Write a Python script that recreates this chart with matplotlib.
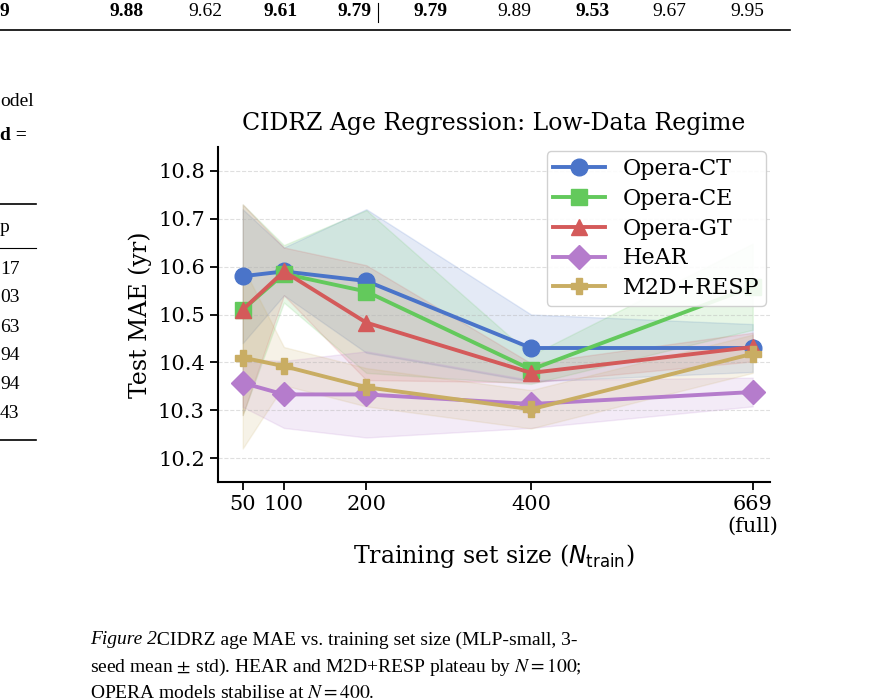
import numpy as np
import matplotlib.pyplot as plt

# training set sizes
n_train = [50, 100, 200, 400, 669]
tick_labels = ["50", "100", "200", "400", "669\n(full)"]

names = ["Opera-CT", "Opera-CE", "Opera-GT", "HeAR", "M2D+RESP"]
colors = ["#4a74c9", "#63c95c", "#d45a5a", "#b57ccc", "#c9ad63"]
markers = ["o", "s", "^", "D", "P"]

mae_ct = [10.58, 10.59, 10.57, 10.43, 10.43]
mae_ce = [10.51, 10.585, 10.548, 10.385, 10.558]
mae_gt = [10.51, 10.59, 10.483, 10.378, 10.432]
mae_hear = [10.357, 10.333, 10.333, 10.313, 10.338]
mae_m2d = [10.41, 10.392, 10.348, 10.302, 10.418]

std_ct = [0.14, 0.05, 0.15, 0.07, 0.05]
std_ce = [0.22, 0.06, 0.17, 0.03, 0.09]
std_gt = [0.22, 0.05, 0.12, 0.02, 0.03]
std_hear = [0.05, 0.07, 0.09, 0.05, 0.03]
std_m2d = [0.19, 0.04, 0.04, 0.04, 0.04]

means = [mae_ct, mae_ce, mae_gt, mae_hear, mae_m2d]
stds = [std_ct, std_ce, std_gt, std_hear, std_m2d]

plt.rcParams["font.family"] = "DejaVu Serif"
plt.rcParams["mathtext.fontset"] = "dejavusans"
fig = plt.figure(figsize=(8.83, 6.99), dpi=100)
ax = fig.add_axes([218/883, 1-482/699, 552/883, 335/699])

x = np.array(n_train)
for name, c, m, mu, sd in zip(names, colors, markers, means, stds):
    mu = np.array(mu); sd = np.array(sd)
    ax.fill_between(x, mu - sd, mu + sd, color=c, alpha=0.15)
    ax.plot(x, mu, color=c, marker=m, markersize=12, linewidth=2.8, label=name)

ax.set_ylim(10.15, 10.85)
ax.set_xlim(20, 690)
ax.set_yticks([10.2, 10.3, 10.4, 10.5, 10.6, 10.7, 10.8])
ax.set_xticks(n_train)
ax.set_xticklabels(tick_labels, fontsize=15)
ax.tick_params(axis="y", labelsize=15)
ax.tick_params(width=1.3, length=6)
ax.grid(axis="y", linestyle="--", alpha=0.4)
ax.spines["top"].set_visible(False)
ax.spines["right"].set_visible(False)
ax.spines["left"].set_linewidth(1.5)
ax.spines["bottom"].set_linewidth(1.5)
ax.set_title("CIDRZ Age Regression: Low-Data Regime", fontsize=17, pad=12)
ax.set_xlabel(r"Training set size ($N_{\mathrm{train}}$)", fontsize=17)
ax.set_ylabel("Test MAE (yr)", fontsize=17)
ax.legend(loc="upper right", fontsize=16, framealpha=0.9, borderpad=0.3,
          handlelength=2.3, labelspacing=0.35, borderaxespad=0.2)

# surrounding page text
serif = "Liberation Serif"
row = ["9", "9.88", "9.62", "9.61", "9.79", "9.79", "9.89", "9.53", "9.67", "9.95"]
bold = [True, True, False, True, True, True, False, True, False, False]
xs = [0, 110, 188, 264, 338, 414, 497, 575, 652, 730]
for t, b, xp in zip(row, bold, xs):
    fig.text(xp/883, 1-12/699, t, fontsize=14, family=serif, va="center",
             weight="bold" if b else "normal")
fig.add_artist(plt.Line2D([0, 790/883], [1-30/699]*2, color="k", lw=1.2))
fig.add_artist(plt.Line2D([378/883]*2, [1-3/699, 1-22/699], color="k", lw=0.8))
left = [("odel", 102), ("d =", 135), ("p", 228), ("17", 270), ("03", 298), ("63", 327), ("94", 356), ("94", 385), ("43", 414)]
for t, yp in left:
    fig.text(0, 1-yp/699, t, fontsize=14, family=serif, va="center",
             weight="bold" if t == "d =" else "normal")
fig.add_artist(plt.Line2D([0, 36/883], [1-204/699]*2, color="k", lw=1.2))
fig.add_artist(plt.Line2D([0, 36/883], [1-248/699]*2, color="k", lw=0.8))
fig.add_artist(plt.Line2D([0, 36/883], [1-440/699]*2, color="k", lw=1.2))
fig.text(90/883, 1-640/699, "Figure 2.", fontsize=14, family=serif, style="italic", va="center")
fig.text(152/883, 1-640/699, " CIDRZ age MAE vs. training set size (MLP-small, 3-",
         fontsize=14, family=serif, va="center")
fig.text(90/883, 1-667/699, r"seed mean$\,\pm\,$std). HEAR and M2D+RESP plateau by $N = 100$;",
         fontsize=14, family=serif, va="center", math_fontfamily="stix")
fig.text(90/883, 1-694/699, r"OPERA models stabilise at $N = 400$.",
         fontsize=14, family=serif, va="center", math_fontfamily="stix")

fig.savefig("out.png", dpi=100)
